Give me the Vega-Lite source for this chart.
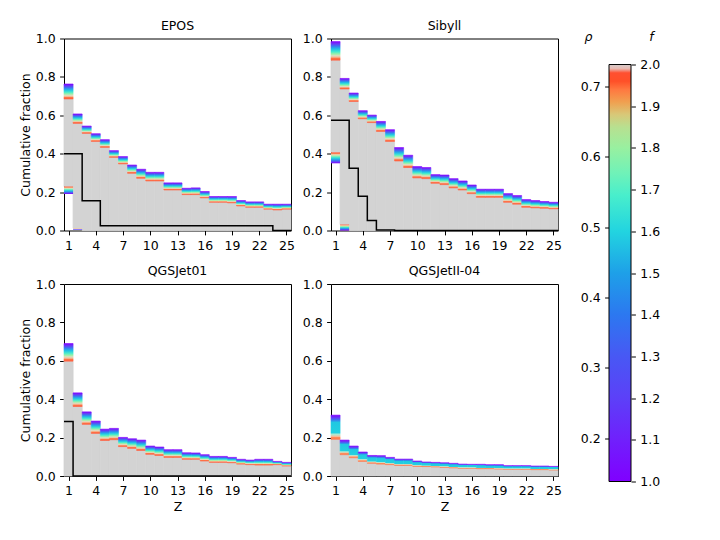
{
  "$schema": "https://vega.github.io/schema/vega-lite/v6.json",
  "padding": {"left": 18, "top": 18.5, "right": 5, "bottom": 5},
  "datasets": {
    "bins": [
      {"m": "EPOS", "z0": 0.5, "z1": 1.5, "lo": 0.229, "hi": 0.685, "top": 0.763},
      {"m": "EPOS", "z0": 1.5, "z1": 2.5, "lo": 0.012, "hi": 0.558, "top": 0.607},
      {"m": "EPOS", "z0": 2.5, "z1": 3.5, "lo": 0, "hi": 0.506, "top": 0.544},
      {"m": "EPOS", "z0": 3.5, "z1": 4.5, "lo": 0, "hi": 0.464, "top": 0.504},
      {"m": "EPOS", "z0": 4.5, "z1": 5.5, "lo": 0, "hi": 0.433, "top": 0.473},
      {"m": "EPOS", "z0": 5.5, "z1": 6.5, "lo": 0, "hi": 0.381, "top": 0.416},
      {"m": "EPOS", "z0": 6.5, "z1": 7.5, "lo": 0, "hi": 0.347, "top": 0.385},
      {"m": "EPOS", "z0": 7.5, "z1": 8.5, "lo": 0, "hi": 0.298, "top": 0.341},
      {"m": "EPOS", "z0": 8.5, "z1": 9.5, "lo": 0, "hi": 0.272, "top": 0.319},
      {"m": "EPOS", "z0": 9.5, "z1": 10.5, "lo": 0, "hi": 0.258, "top": 0.303},
      {"m": "EPOS", "z0": 10.5, "z1": 11.5, "lo": 0, "hi": 0.258, "top": 0.303},
      {"m": "EPOS", "z0": 11.5, "z1": 12.5, "lo": 0, "hi": 0.211, "top": 0.248},
      {"m": "EPOS", "z0": 12.5, "z1": 13.5, "lo": 0, "hi": 0.211, "top": 0.248},
      {"m": "EPOS", "z0": 13.5, "z1": 14.5, "lo": 0, "hi": 0.187, "top": 0.220},
      {"m": "EPOS", "z0": 14.5, "z1": 15.5, "lo": 0, "hi": 0.187, "top": 0.222},
      {"m": "EPOS", "z0": 15.5, "z1": 16.5, "lo": 0, "hi": 0.170, "top": 0.203},
      {"m": "EPOS", "z0": 16.5, "z1": 17.5, "lo": 0, "hi": 0.147, "top": 0.177},
      {"m": "EPOS", "z0": 17.5, "z1": 18.5, "lo": 0, "hi": 0.147, "top": 0.177},
      {"m": "EPOS", "z0": 18.5, "z1": 19.5, "lo": 0, "hi": 0.144, "top": 0.177},
      {"m": "EPOS", "z0": 19.5, "z1": 20.5, "lo": 0, "hi": 0.128, "top": 0.156},
      {"m": "EPOS", "z0": 20.5, "z1": 21.5, "lo": 0, "hi": 0.121, "top": 0.149},
      {"m": "EPOS", "z0": 21.5, "z1": 22.5, "lo": 0, "hi": 0.121, "top": 0.149},
      {"m": "EPOS", "z0": 22.5, "z1": 23.5, "lo": 0, "hi": 0.111, "top": 0.137},
      {"m": "EPOS", "z0": 23.5, "z1": 24.5, "lo": 0, "hi": 0.107, "top": 0.137},
      {"m": "EPOS", "z0": 24.5, "z1": 25.5, "lo": 0, "hi": 0.111, "top": 0.137},
      {"m": "Sibyll", "z0": 0.5, "z1": 1.5, "lo": 0.407, "hi": 0.887, "top": 0.984},
      {"m": "Sibyll", "z0": 1.5, "z1": 2.5, "lo": 0.031, "hi": 0.737, "top": 0.792},
      {"m": "Sibyll", "z0": 2.5, "z1": 3.5, "lo": 0, "hi": 0.672, "top": 0.716},
      {"m": "Sibyll", "z0": 3.5, "z1": 4.5, "lo": 0, "hi": 0.582, "top": 0.624},
      {"m": "Sibyll", "z0": 4.5, "z1": 5.5, "lo": 0, "hi": 0.562, "top": 0.601},
      {"m": "Sibyll", "z0": 5.5, "z1": 6.5, "lo": 0, "hi": 0.516, "top": 0.568},
      {"m": "Sibyll", "z0": 6.5, "z1": 7.5, "lo": 0, "hi": 0.464, "top": 0.525},
      {"m": "Sibyll", "z0": 7.5, "z1": 8.5, "lo": 0, "hi": 0.362, "top": 0.432},
      {"m": "Sibyll", "z0": 8.5, "z1": 9.5, "lo": 0, "hi": 0.328, "top": 0.392},
      {"m": "Sibyll", "z0": 9.5, "z1": 10.5, "lo": 0, "hi": 0.274, "top": 0.333},
      {"m": "Sibyll", "z0": 10.5, "z1": 11.5, "lo": 0, "hi": 0.270, "top": 0.328},
      {"m": "Sibyll", "z0": 11.5, "z1": 12.5, "lo": 0, "hi": 0.246, "top": 0.291},
      {"m": "Sibyll", "z0": 12.5, "z1": 13.5, "lo": 0, "hi": 0.239, "top": 0.289},
      {"m": "Sibyll", "z0": 13.5, "z1": 14.5, "lo": 0, "hi": 0.222, "top": 0.270},
      {"m": "Sibyll", "z0": 14.5, "z1": 15.5, "lo": 0, "hi": 0.211, "top": 0.258},
      {"m": "Sibyll", "z0": 15.5, "z1": 16.5, "lo": 0, "hi": 0.192, "top": 0.237},
      {"m": "Sibyll", "z0": 16.5, "z1": 17.5, "lo": 0, "hi": 0.173, "top": 0.215},
      {"m": "Sibyll", "z0": 17.5, "z1": 18.5, "lo": 0, "hi": 0.173, "top": 0.215},
      {"m": "Sibyll", "z0": 18.5, "z1": 19.5, "lo": 0, "hi": 0.173, "top": 0.215},
      {"m": "Sibyll", "z0": 19.5, "z1": 20.5, "lo": 0, "hi": 0.147, "top": 0.192},
      {"m": "Sibyll", "z0": 20.5, "z1": 21.5, "lo": 0, "hi": 0.137, "top": 0.182},
      {"m": "Sibyll", "z0": 21.5, "z1": 22.5, "lo": 0, "hi": 0.121, "top": 0.161},
      {"m": "Sibyll", "z0": 22.5, "z1": 23.5, "lo": 0, "hi": 0.118, "top": 0.156},
      {"m": "Sibyll", "z0": 23.5, "z1": 24.5, "lo": 0, "hi": 0.116, "top": 0.151},
      {"m": "Sibyll", "z0": 24.5, "z1": 25.5, "lo": 0, "hi": 0.113, "top": 0.147},
      {"m": "QGSJet01", "z0": 0.5, "z1": 1.5, "lo": 0, "hi": 0.598, "top": 0.690},
      {"m": "QGSJet01", "z0": 1.5, "z1": 2.5, "lo": 0, "hi": 0.362, "top": 0.433},
      {"m": "QGSJet01", "z0": 2.5, "z1": 3.5, "lo": 0, "hi": 0.269, "top": 0.334},
      {"m": "QGSJet01", "z0": 3.5, "z1": 4.5, "lo": 0, "hi": 0.222, "top": 0.286},
      {"m": "QGSJet01", "z0": 4.5, "z1": 5.5, "lo": 0, "hi": 0.185, "top": 0.244},
      {"m": "QGSJet01", "z0": 5.5, "z1": 6.5, "lo": 0, "hi": 0.189, "top": 0.248},
      {"m": "QGSJet01", "z0": 6.5, "z1": 7.5, "lo": 0, "hi": 0.153, "top": 0.201},
      {"m": "QGSJet01", "z0": 7.5, "z1": 8.5, "lo": 0, "hi": 0.144, "top": 0.194},
      {"m": "QGSJet01", "z0": 8.5, "z1": 9.5, "lo": 0, "hi": 0.133, "top": 0.187},
      {"m": "QGSJet01", "z0": 9.5, "z1": 10.5, "lo": 0, "hi": 0.113, "top": 0.156},
      {"m": "QGSJet01", "z0": 10.5, "z1": 11.5, "lo": 0, "hi": 0.107, "top": 0.151},
      {"m": "QGSJet01", "z0": 11.5, "z1": 12.5, "lo": 0, "hi": 0.097, "top": 0.137},
      {"m": "QGSJet01", "z0": 12.5, "z1": 13.5, "lo": 0, "hi": 0.097, "top": 0.137},
      {"m": "QGSJet01", "z0": 13.5, "z1": 14.5, "lo": 0, "hi": 0.087, "top": 0.121},
      {"m": "QGSJet01", "z0": 14.5, "z1": 15.5, "lo": 0, "hi": 0.087, "top": 0.120},
      {"m": "QGSJet01", "z0": 15.5, "z1": 16.5, "lo": 0, "hi": 0.078, "top": 0.111},
      {"m": "QGSJet01", "z0": 16.5, "z1": 17.5, "lo": 0, "hi": 0.071, "top": 0.102},
      {"m": "QGSJet01", "z0": 17.5, "z1": 18.5, "lo": 0, "hi": 0.071, "top": 0.102},
      {"m": "QGSJet01", "z0": 18.5, "z1": 19.5, "lo": 0, "hi": 0.069, "top": 0.097},
      {"m": "QGSJet01", "z0": 19.5, "z1": 20.5, "lo": 0, "hi": 0.062, "top": 0.087},
      {"m": "QGSJet01", "z0": 20.5, "z1": 21.5, "lo": 0, "hi": 0.059, "top": 0.083},
      {"m": "QGSJet01", "z0": 21.5, "z1": 22.5, "lo": 0, "hi": 0.057, "top": 0.087},
      {"m": "QGSJet01", "z0": 22.5, "z1": 23.5, "lo": 0, "hi": 0.057, "top": 0.087},
      {"m": "QGSJet01", "z0": 23.5, "z1": 24.5, "lo": 0, "hi": 0.059, "top": 0.076},
      {"m": "QGSJet01", "z0": 24.5, "z1": 25.5, "lo": 0, "hi": 0.052, "top": 0.071},
      {"m": "QGSJetII-04", "z0": 0.5, "z1": 1.5, "lo": 0, "hi": 0.191, "top": 0.317},
      {"m": "QGSJetII-04", "z0": 1.5, "z1": 2.5, "lo": 0, "hi": 0.111, "top": 0.187},
      {"m": "QGSJetII-04", "z0": 2.5, "z1": 3.5, "lo": 0, "hi": 0.095, "top": 0.156},
      {"m": "QGSJetII-04", "z0": 3.5, "z1": 4.5, "lo": 0, "hi": 0.076, "top": 0.125},
      {"m": "QGSJetII-04", "z0": 4.5, "z1": 5.5, "lo": 0, "hi": 0.066, "top": 0.107},
      {"m": "QGSJetII-04", "z0": 5.5, "z1": 6.5, "lo": 0, "hi": 0.062, "top": 0.106},
      {"m": "QGSJetII-04", "z0": 6.5, "z1": 7.5, "lo": 0, "hi": 0.059, "top": 0.097},
      {"m": "QGSJetII-04", "z0": 7.5, "z1": 8.5, "lo": 0, "hi": 0.055, "top": 0.088},
      {"m": "QGSJetII-04", "z0": 8.5, "z1": 9.5, "lo": 0, "hi": 0.055, "top": 0.088},
      {"m": "QGSJetII-04", "z0": 9.5, "z1": 10.5, "lo": 0, "hi": 0.050, "top": 0.078},
      {"m": "QGSJetII-04", "z0": 10.5, "z1": 11.5, "lo": 0, "hi": 0.049, "top": 0.073},
      {"m": "QGSJetII-04", "z0": 11.5, "z1": 12.5, "lo": 0, "hi": 0.047, "top": 0.071},
      {"m": "QGSJetII-04", "z0": 12.5, "z1": 13.5, "lo": 0, "hi": 0.045, "top": 0.069},
      {"m": "QGSJetII-04", "z0": 13.5, "z1": 14.5, "lo": 0, "hi": 0.042, "top": 0.066},
      {"m": "QGSJetII-04", "z0": 14.5, "z1": 15.5, "lo": 0, "hi": 0.040, "top": 0.062},
      {"m": "QGSJetII-04", "z0": 15.5, "z1": 16.5, "lo": 0, "hi": 0.040, "top": 0.061},
      {"m": "QGSJetII-04", "z0": 16.5, "z1": 17.5, "lo": 0, "hi": 0.038, "top": 0.061},
      {"m": "QGSJetII-04", "z0": 17.5, "z1": 18.5, "lo": 0, "hi": 0.038, "top": 0.059},
      {"m": "QGSJetII-04", "z0": 18.5, "z1": 19.5, "lo": 0, "hi": 0.036, "top": 0.059},
      {"m": "QGSJetII-04", "z0": 19.5, "z1": 20.5, "lo": 0, "hi": 0.035, "top": 0.054},
      {"m": "QGSJetII-04", "z0": 20.5, "z1": 21.5, "lo": 0, "hi": 0.035, "top": 0.054},
      {"m": "QGSJetII-04", "z0": 21.5, "z1": 22.5, "lo": 0, "hi": 0.035, "top": 0.054},
      {"m": "QGSJetII-04", "z0": 22.5, "z1": 23.5, "lo": 0, "hi": 0.033, "top": 0.052},
      {"m": "QGSJetII-04", "z0": 23.5, "z1": 24.5, "lo": 0, "hi": 0.033, "top": 0.052},
      {"m": "QGSJetII-04", "z0": 24.5, "z1": 25.5, "lo": 0, "hi": 0.031, "top": 0.050}
    ],
    "low": [
      {"m": "EPOS", "z0": 0.5, "z1": 1.5, "b0": 0.190, "b1": 0.229},
      {"m": "EPOS", "z0": 1.5, "z1": 2.5, "b0": 0.004, "b1": 0.012},
      {"m": "Sibyll", "z0": 0.5, "z1": 1.5, "b0": 0.350, "b1": 0.407},
      {"m": "Sibyll", "z0": 1.5, "z1": 2.5, "b0": 0.0, "b1": 0.031}
    ],
    "blk": [
      {"m": "EPOS", "z": 0.5, "v": 0.400},
      {"m": "EPOS", "z": 2.5, "v": 0.155},
      {"m": "EPOS", "z": 4.5, "v": 0.025},
      {"m": "EPOS", "z": 23.5, "v": 0},
      {"m": "EPOS", "z": 25.5, "v": 0},
      {"m": "Sibyll", "z": 0.5, "v": 0.574},
      {"m": "Sibyll", "z": 2.5, "v": 0.324},
      {"m": "Sibyll", "z": 3.5, "v": 0.178},
      {"m": "Sibyll", "z": 4.5, "v": 0.052},
      {"m": "Sibyll", "z": 5.5, "v": 0.003},
      {"m": "Sibyll", "z": 7.5, "v": 0},
      {"m": "Sibyll", "z": 25.5, "v": 0},
      {"m": "QGSJet01", "z": 0.5, "v": 0.284},
      {"m": "QGSJet01", "z": 1.5, "v": 0},
      {"m": "QGSJet01", "z": 25.5, "v": 0}
    ],
    "cbar": [
      {"x0": 0, "x1": 1, "f0": 1.0, "f1": 2.0, "r0": 0.1385, "r1": 0.7678}
    ]
  },
  "hconcat": [
    {
      "vconcat": [
        {
          "hconcat": [
            {
              "title": "EPOS",
              "width": 227,
              "height": 192,
              "layer": [
                {
                  "data": {"name": "bins"},
                  "transform": [{"filter": "datum.m === 'EPOS'"}],
                  "mark": {"type": "rect", "fill": "#d3d3d3", "stroke": "#d3d3d3", "strokeWidth": 0.8},
                  "encoding": {
                    "x": {"field": "z0", "type": "quantitative", "title": null, "scale": {"domain": [0.5, 25.5], "nice": false, "zero": false}, "axis": {"values": [1, 4, 7, 10, 13, 16, 19, 22, 25], "tickCount": 30, "format": "d"}},
                    "x2": {"field": "z1"},
                    "y": {"field": "lo", "type": "quantitative", "title": "Cumulative fraction", "scale": {"domain": [0, 1], "nice": false}, "axis": {"values": [0, 0.2, 0.4, 0.6, 0.8, 1.0], "tickCount": 30, "format": ".1f"}},
                    "y2": {"field": "hi"}
                  }
                },
                {
                  "data": {"name": "bins"},
                  "transform": [{"filter": "datum.m === 'EPOS'"}],
                  "mark": {"type": "rect", "strokeWidth": 0.6, "stroke": {"gradient": "linear", "x1": 0, "y1": 0, "x2": 0, "y2": 1, "stops": [
                    {"offset": 0, "color": "#8000ff"}, {"offset": 0.12, "color": "#6a38f8"}, {"offset": 0.25, "color": "#3a78f0"}, {"offset": 0.4, "color": "#20c0e6"}, {"offset": 0.55, "color": "#48eccc"}, {"offset": 0.68, "color": "#a4f0a8"}, {"offset": 0.76, "color": "#dcdcc4"}, {"offset": 0.84, "color": "#f4b890"}, {"offset": 0.9, "color": "#ff7448"}, {"offset": 1, "color": "#ff5a3a"}]}, "fill": {"gradient": "linear", "x1": 0, "y1": 0, "x2": 0, "y2": 1, "stops": [
                    {"offset": 0, "color": "#8000ff"}, {"offset": 0.12, "color": "#6a38f8"}, {"offset": 0.25, "color": "#3a78f0"}, {"offset": 0.4, "color": "#20c0e6"}, {"offset": 0.55, "color": "#48eccc"}, {"offset": 0.68, "color": "#a4f0a8"}, {"offset": 0.76, "color": "#dcdcc4"}, {"offset": 0.84, "color": "#f4b890"}, {"offset": 0.9, "color": "#ff7448"}, {"offset": 1, "color": "#ff5a3a"}]}},
                  "encoding": {
                    "x": {"field": "z0", "type": "quantitative", "title": null, "scale": {"domain": [0.5, 25.5], "nice": false, "zero": false}},
                    "x2": {"field": "z1"},
                    "y": {"field": "top", "type": "quantitative", "title": "Cumulative fraction", "scale": {"domain": [0, 1], "nice": false}},
                    "y2": {"field": "hi"}
                  }
                },
                {
                  "data": {"name": "low"},
                  "transform": [{"filter": "datum.m === 'EPOS'"}],
                  "mark": {"type": "rect", "fill": {"gradient": "linear", "x1": 0, "y1": 1, "x2": 0, "y2": 0, "stops": [
                    {"offset": 0, "color": "#8000ff"}, {"offset": 0.12, "color": "#6a38f8"}, {"offset": 0.25, "color": "#3a78f0"}, {"offset": 0.4, "color": "#20c0e6"}, {"offset": 0.55, "color": "#48eccc"}, {"offset": 0.68, "color": "#a4f0a8"}, {"offset": 0.76, "color": "#dcdcc4"}, {"offset": 0.84, "color": "#f4b890"}, {"offset": 0.9, "color": "#ff7448"}, {"offset": 1, "color": "#ff5a3a"}]}},
                  "encoding": {
                    "x": {"field": "z0", "type": "quantitative", "title": null, "scale": {"domain": [0.5, 25.5], "nice": false, "zero": false}},
                    "x2": {"field": "z1"},
                    "y": {"field": "b1", "type": "quantitative", "title": "Cumulative fraction", "scale": {"domain": [0, 1], "nice": false}},
                    "y2": {"field": "b0"}
                  }
                },
                {
                  "data": {"name": "blk"},
                  "transform": [{"filter": "datum.m === 'EPOS'"}],
                  "mark": {"type": "line", "interpolate": "step-after", "color": "black", "strokeWidth": 1.5},
                  "encoding": {
                    "x": {"field": "z", "type": "quantitative", "title": null, "scale": {"domain": [0.5, 25.5], "nice": false, "zero": false}},
                    "y": {"field": "v", "type": "quantitative", "title": "Cumulative fraction", "scale": {"domain": [0, 1], "nice": false}}
                  }
                }
              ]
            },
            {
              "title": "Sibyll",
              "width": 227,
              "height": 192,
              "layer": [
                {
                  "data": {"name": "bins"},
                  "transform": [{"filter": "datum.m === 'Sibyll'"}],
                  "mark": {"type": "rect", "fill": "#d3d3d3", "stroke": "#d3d3d3", "strokeWidth": 0.8},
                  "encoding": {
                    "x": {"field": "z0", "type": "quantitative", "title": null, "scale": {"domain": [0.5, 25.5], "nice": false, "zero": false}, "axis": {"values": [1, 4, 7, 10, 13, 16, 19, 22, 25], "tickCount": 30, "format": "d"}},
                    "x2": {"field": "z1"},
                    "y": {"field": "lo", "type": "quantitative", "title": null, "scale": {"domain": [0, 1], "nice": false}, "axis": {"values": [0, 0.2, 0.4, 0.6, 0.8, 1.0], "tickCount": 30, "format": ".1f"}},
                    "y2": {"field": "hi"}
                  }
                },
                {
                  "data": {"name": "bins"},
                  "transform": [{"filter": "datum.m === 'Sibyll'"}],
                  "mark": {"type": "rect", "strokeWidth": 0.6, "stroke": {"gradient": "linear", "x1": 0, "y1": 0, "x2": 0, "y2": 1, "stops": [
                    {"offset": 0, "color": "#8000ff"}, {"offset": 0.12, "color": "#6a38f8"}, {"offset": 0.25, "color": "#3a78f0"}, {"offset": 0.4, "color": "#20c0e6"}, {"offset": 0.55, "color": "#48eccc"}, {"offset": 0.68, "color": "#a4f0a8"}, {"offset": 0.76, "color": "#dcdcc4"}, {"offset": 0.84, "color": "#f4b890"}, {"offset": 0.9, "color": "#ff7448"}, {"offset": 1, "color": "#ff5a3a"}]}, "fill": {"gradient": "linear", "x1": 0, "y1": 0, "x2": 0, "y2": 1, "stops": [
                    {"offset": 0, "color": "#8000ff"}, {"offset": 0.12, "color": "#6a38f8"}, {"offset": 0.25, "color": "#3a78f0"}, {"offset": 0.4, "color": "#20c0e6"}, {"offset": 0.55, "color": "#48eccc"}, {"offset": 0.68, "color": "#a4f0a8"}, {"offset": 0.76, "color": "#dcdcc4"}, {"offset": 0.84, "color": "#f4b890"}, {"offset": 0.9, "color": "#ff7448"}, {"offset": 1, "color": "#ff5a3a"}]}},
                  "encoding": {
                    "x": {"field": "z0", "type": "quantitative", "title": null, "scale": {"domain": [0.5, 25.5], "nice": false, "zero": false}},
                    "x2": {"field": "z1"},
                    "y": {"field": "top", "type": "quantitative", "title": null, "scale": {"domain": [0, 1], "nice": false}},
                    "y2": {"field": "hi"}
                  }
                },
                {
                  "data": {"name": "low"},
                  "transform": [{"filter": "datum.m === 'Sibyll'"}],
                  "mark": {"type": "rect", "fill": {"gradient": "linear", "x1": 0, "y1": 1, "x2": 0, "y2": 0, "stops": [
                    {"offset": 0, "color": "#8000ff"}, {"offset": 0.12, "color": "#6a38f8"}, {"offset": 0.25, "color": "#3a78f0"}, {"offset": 0.4, "color": "#20c0e6"}, {"offset": 0.55, "color": "#48eccc"}, {"offset": 0.68, "color": "#a4f0a8"}, {"offset": 0.76, "color": "#dcdcc4"}, {"offset": 0.84, "color": "#f4b890"}, {"offset": 0.9, "color": "#ff7448"}, {"offset": 1, "color": "#ff5a3a"}]}},
                  "encoding": {
                    "x": {"field": "z0", "type": "quantitative", "title": null, "scale": {"domain": [0.5, 25.5], "nice": false, "zero": false}},
                    "x2": {"field": "z1"},
                    "y": {"field": "b1", "type": "quantitative", "title": null, "scale": {"domain": [0, 1], "nice": false}},
                    "y2": {"field": "b0"}
                  }
                },
                {
                  "data": {"name": "blk"},
                  "transform": [{"filter": "datum.m === 'Sibyll'"}],
                  "mark": {"type": "line", "interpolate": "step-after", "color": "black", "strokeWidth": 1.5},
                  "encoding": {
                    "x": {"field": "z", "type": "quantitative", "title": null, "scale": {"domain": [0.5, 25.5], "nice": false, "zero": false}},
                    "y": {"field": "v", "type": "quantitative", "title": null, "scale": {"domain": [0, 1], "nice": false}}
                  }
                }
              ]
            }
          ],
          "spacing": 40,
          "bounds": "flush"
        },
        {
          "hconcat": [
            {
              "title": "QGSJet01",
              "width": 227,
              "height": 192,
              "layer": [
                {
                  "data": {"name": "bins"},
                  "transform": [{"filter": "datum.m === 'QGSJet01'"}],
                  "mark": {"type": "rect", "fill": "#d3d3d3", "stroke": "#d3d3d3", "strokeWidth": 0.8},
                  "encoding": {
                    "x": {"field": "z0", "type": "quantitative", "title": "Z", "scale": {"domain": [0.5, 25.5], "nice": false, "zero": false}, "axis": {"values": [1, 4, 7, 10, 13, 16, 19, 22, 25], "tickCount": 30, "format": "d"}},
                    "x2": {"field": "z1"},
                    "y": {"field": "lo", "type": "quantitative", "title": "Cumulative fraction", "scale": {"domain": [0, 1], "nice": false}, "axis": {"values": [0, 0.2, 0.4, 0.6, 0.8, 1.0], "tickCount": 30, "format": ".1f"}},
                    "y2": {"field": "hi"}
                  }
                },
                {
                  "data": {"name": "bins"},
                  "transform": [{"filter": "datum.m === 'QGSJet01'"}],
                  "mark": {"type": "rect", "strokeWidth": 0.6, "stroke": {"gradient": "linear", "x1": 0, "y1": 0, "x2": 0, "y2": 1, "stops": [
                    {"offset": 0, "color": "#8000ff"}, {"offset": 0.12, "color": "#6a38f8"}, {"offset": 0.25, "color": "#3a78f0"}, {"offset": 0.4, "color": "#20c0e6"}, {"offset": 0.55, "color": "#48eccc"}, {"offset": 0.68, "color": "#a4f0a8"}, {"offset": 0.76, "color": "#dcdcc4"}, {"offset": 0.84, "color": "#f4b890"}, {"offset": 0.9, "color": "#ff7448"}, {"offset": 1, "color": "#ff5a3a"}]}, "fill": {"gradient": "linear", "x1": 0, "y1": 0, "x2": 0, "y2": 1, "stops": [
                    {"offset": 0, "color": "#8000ff"}, {"offset": 0.12, "color": "#6a38f8"}, {"offset": 0.25, "color": "#3a78f0"}, {"offset": 0.4, "color": "#20c0e6"}, {"offset": 0.55, "color": "#48eccc"}, {"offset": 0.68, "color": "#a4f0a8"}, {"offset": 0.76, "color": "#dcdcc4"}, {"offset": 0.84, "color": "#f4b890"}, {"offset": 0.9, "color": "#ff7448"}, {"offset": 1, "color": "#ff5a3a"}]}},
                  "encoding": {
                    "x": {"field": "z0", "type": "quantitative", "title": "Z", "scale": {"domain": [0.5, 25.5], "nice": false, "zero": false}},
                    "x2": {"field": "z1"},
                    "y": {"field": "top", "type": "quantitative", "title": "Cumulative fraction", "scale": {"domain": [0, 1], "nice": false}},
                    "y2": {"field": "hi"}
                  }
                },
                {
                  "data": {"name": "blk"},
                  "transform": [{"filter": "datum.m === 'QGSJet01'"}],
                  "mark": {"type": "line", "interpolate": "step-after", "color": "black", "strokeWidth": 1.5},
                  "encoding": {
                    "x": {"field": "z", "type": "quantitative", "title": "Z", "scale": {"domain": [0.5, 25.5], "nice": false, "zero": false}},
                    "y": {"field": "v", "type": "quantitative", "title": "Cumulative fraction", "scale": {"domain": [0, 1], "nice": false}}
                  }
                }
              ]
            },
            {
              "title": "QGSJetII-04",
              "width": 227,
              "height": 192,
              "layer": [
                {
                  "data": {"name": "bins"},
                  "transform": [{"filter": "datum.m === 'QGSJetII-04'"}],
                  "mark": {"type": "rect", "fill": "#d3d3d3", "stroke": "#d3d3d3", "strokeWidth": 0.8},
                  "encoding": {
                    "x": {"field": "z0", "type": "quantitative", "title": "Z", "scale": {"domain": [0.5, 25.5], "nice": false, "zero": false}, "axis": {"values": [1, 4, 7, 10, 13, 16, 19, 22, 25], "tickCount": 30, "format": "d"}},
                    "x2": {"field": "z1"},
                    "y": {"field": "lo", "type": "quantitative", "title": null, "scale": {"domain": [0, 1], "nice": false}, "axis": {"values": [0, 0.2, 0.4, 0.6, 0.8, 1.0], "tickCount": 30, "format": ".1f"}},
                    "y2": {"field": "hi"}
                  }
                },
                {
                  "data": {"name": "bins"},
                  "transform": [{"filter": "datum.m === 'QGSJetII-04'"}],
                  "mark": {"type": "rect", "strokeWidth": 0.6, "stroke": {"gradient": "linear", "x1": 0, "y1": 0, "x2": 0, "y2": 1, "stops": [
                    {"offset": 0, "color": "#8000ff"}, {"offset": 0.1, "color": "#6a38f8"}, {"offset": 0.2, "color": "#3a78f0"}, {"offset": 0.3, "color": "#20c8e2"}, {"offset": 0.72, "color": "#22d0e0"}, {"offset": 0.8, "color": "#b0e8d0"}, {"offset": 0.88, "color": "#f0c0a0"}, {"offset": 0.92, "color": "#ff8a58"}, {"offset": 1, "color": "#ff7448"}]}, "fill": {"gradient": "linear", "x1": 0, "y1": 0, "x2": 0, "y2": 1, "stops": [
                    {"offset": 0, "color": "#8000ff"}, {"offset": 0.1, "color": "#6a38f8"}, {"offset": 0.2, "color": "#3a78f0"}, {"offset": 0.3, "color": "#20c8e2"}, {"offset": 0.72, "color": "#22d0e0"}, {"offset": 0.8, "color": "#b0e8d0"}, {"offset": 0.88, "color": "#f0c0a0"}, {"offset": 0.92, "color": "#ff8a58"}, {"offset": 1, "color": "#ff7448"}]}},
                  "encoding": {
                    "x": {"field": "z0", "type": "quantitative", "title": "Z", "scale": {"domain": [0.5, 25.5], "nice": false, "zero": false}},
                    "x2": {"field": "z1"},
                    "y": {"field": "top", "type": "quantitative", "title": null, "scale": {"domain": [0, 1], "nice": false}},
                    "y2": {"field": "hi"}
                  }
                }
              ]
            }
          ],
          "spacing": 40,
          "bounds": "flush"
        }
      ],
      "spacing": 11.5
    },
    {
      "width": 22,
      "height": 443,
      "view": {"stroke": null},
      "data": {"name": "cbar"},
      "layer": [
        {
          "mark": {"type": "rect", "stroke": "black", "strokeWidth": 1, "fill": {"gradient": "linear", "x1": 0, "y1": 1, "x2": 0, "y2": 0, "stops": [
            {"offset": 0, "color": "#8000ff"}, {"offset": 0.1, "color": "#7020fc"}, {"offset": 0.2, "color": "#5c40f8"}, {"offset": 0.3, "color": "#4858f4"}, {"offset": 0.4, "color": "#2c78f0"}, {"offset": 0.5, "color": "#1ea0e8"}, {"offset": 0.6, "color": "#22d4e0"}, {"offset": 0.686, "color": "#48eecc"}, {"offset": 0.74, "color": "#70f2b8"}, {"offset": 0.8, "color": "#98f0a0"}, {"offset": 0.85, "color": "#b8e090"}, {"offset": 0.88, "color": "#d8c878"}, {"offset": 0.91, "color": "#f0a050"}, {"offset": 0.94, "color": "#ff7840"}, {"offset": 0.96, "color": "#ff5028"}, {"offset": 0.98, "color": "#ff5030"}, {"offset": 0.99, "color": "#e8b8b0"}, {"offset": 1, "color": "#d8d0d0"}]}},
          "encoding": {
            "x": {"field": "x0", "type": "quantitative", "scale": {"domain": [0, 1], "nice": false}, "axis": null},
            "x2": {"field": "x1"},
            "y": {"field": "f0", "type": "quantitative", "scale": {"domain": [1, 2.0624], "nice": false, "zero": false},
                  "axis": {"orient": "right", "values": [1.0, 1.1, 1.2, 1.3, 1.4, 1.5, 1.6, 1.7, 1.8, 1.9, 2.0], "tickCount": 30, "format": ".1f", "title": "f", "titleAngle": 0, "titleFontStyle": "italic", "titleX": 20, "titleY": 2, "titleAlign": "center", "titleBaseline": "alphabetic"}},
            "y2": {"field": "f1"}
          }
        },
        {
          "mark": {"type": "rect", "opacity": 0},
          "encoding": {
            "x": {"field": "x0", "type": "quantitative", "scale": {"domain": [0, 1], "nice": false}, "axis": null},
            "x2": {"field": "x1"},
            "y": {"field": "r0", "type": "quantitative", "scale": {"domain": [0.1385, 0.7678], "nice": false, "zero": false},
                  "axis": {"orient": "left", "values": [0.2, 0.3, 0.4, 0.5, 0.6, 0.7], "tickCount": 30, "format": ".1f", "title": "ρ", "titleAngle": 0, "titleFontStyle": "italic", "titleX": -21, "titleY": 2, "titleAlign": "center", "titleBaseline": "alphabetic"}},
            "y2": {"field": "r1"}
          }
        }
      ],
      "resolve": {"scale": {"y": "independent"}}
    }
  ],
  "spacing": 18,
  "config": {
    "font": "DejaVu Sans",
    "view": {"stroke": "black", "strokeWidth": 1},
    "axis": {
      "domain": false,
      "grid": false,
      "ticks": true,
      "tickColor": "black",
      "tickSize": 4.4,
      "tickWidth": 1,
      "labelColor": "black",
      "labelFont": "DejaVu Sans",
      "labelFontSize": 12.5,
      "labelPadding": 4.4,
      "labelFlush": false,
      "labelOverlap": false,
      "titleColor": "black",
      "titleFont": "DejaVu Sans",
      "titleFontSize": 12.5,
      "titleFontWeight": "normal",
      "titlePadding": 3
    },
    "title": {
      "font": "DejaVu Sans",
      "fontSize": 12.5,
      "fontWeight": "normal",
      "color": "black",
      "offset": 0.5,
      "baseline": "alphabetic"
    }
  }
}
